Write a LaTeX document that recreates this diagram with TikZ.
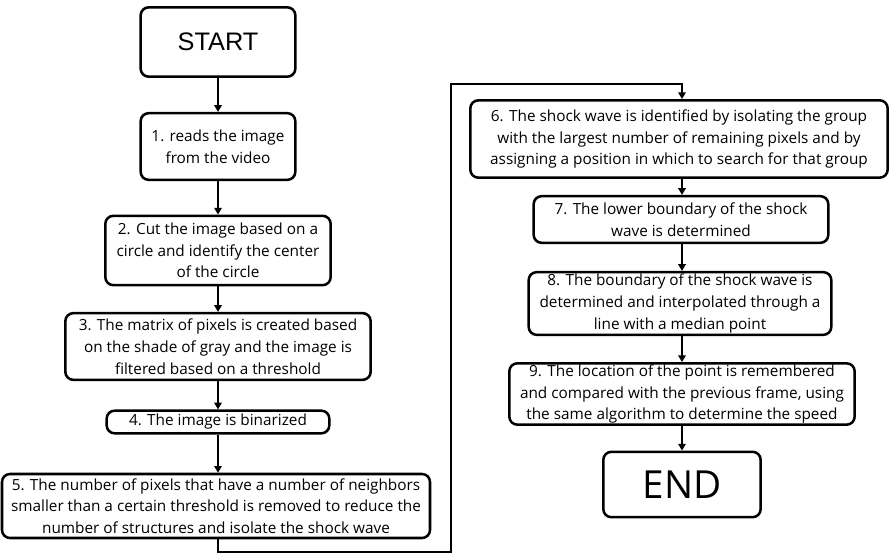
\documentclass[tikz,border=0pt]{standalone}
\usepackage{fontspec}
\setmainfont{Open Sans}
\newfontfamily\arialfont{Liberation Sans}
\usetikzlibrary{arrows.meta}

\begin{document}
\begin{tikzpicture}[x=0.75pt,y=-0.75pt,>={Triangle[length=5pt,width=5.5pt]},
  stepbox/.style={draw,line width=1.9pt,rounded corners=6pt,align=center,
    inner sep=0pt,font=\fontsize{11.5}{16.3}\selectfont},
  flow/.style={->,line width=1.7pt}]
  \useasboundingbox (0,0) rectangle (890,559);

  \node[stepbox,minimum width=116pt,minimum height=52pt,
        font=\arialfont\fontsize{19}{22}\selectfont] (start) at (218,42) {START};
  \node[stepbox,minimum width=116pt,minimum height=50pt] (s1) at (218,146.5)
    {1. reads the image\\from the video};
  \node[stepbox,minimum width=169pt,minimum height=52pt] (s2) at (218,250.5)
    {2. Cut the image based on a\\circle and identify the center\\of the circle};
  \node[stepbox,minimum width=229pt,minimum height=50pt] (s3) at (218,346.5)
    {3. The matrix of pixels is created based\\on the shade of gray and the image is\\filtered based on a threshold};
  \node[stepbox,minimum width=167pt,minimum height=17pt] (s4) at (218,422)
    {4. The image is binarized};
  \node[stepbox,minimum width=321pt,minimum height=48pt] (s5) at (216,506)
    {5. The number of pixels that have a number of neighbors\\smaller than a certain threshold is removed to reduce the\\number of structures and isolate the shock wave};

  \node[stepbox,minimum width=313pt,minimum height=58pt] (s6) at (679,139)
    {6. The shock wave is identified by isolating the group\\with the largest number of remaining pixels and by\\assigning a position in which to search for that group};
  \node[stepbox,minimum width=221pt,minimum height=35pt] (s7) at (681,219.5)
    {7. The lower boundary of the shock\\wave is determined};
  \node[stepbox,minimum width=227pt,minimum height=47pt] (s8) at (680,303.5)
    {8. The boundary of the shock wave is\\determined and interpolated through a\\line with a median point};
  \node[stepbox,minimum width=259pt,minimum height=46pt] (s9) at (682,394)
    {9. The location of the point is remembered\\and compared with the previous frame, using\\the same algorithm to determine the speed};
  \node[stepbox,minimum width=118pt,minimum height=49pt,
        font=\fontsize{29}{32}\selectfont] (end) at (682,484.5) {END};

  \draw[flow] (start) -- (s1);
  \draw[flow] (s1) -- (s2);
  \draw[flow] (s2) -- (s3);
  \draw[flow] (s3) -- (s4);
  \draw[flow] (s4.south) -- (s4.south |- s5.north);

  \coordinate (low) at (451,552);
  \coordinate (turn) at (451,84);
  \coordinate (top6) at (682,84);
  \draw[flow] (s4.south |- s5.south) |- (low) -- (turn) -- (top6) -- (top6 |- s6.north);

  \draw[flow] (top6 |- s6.south) -- (top6 |- s7.north);
  \draw[flow] (top6 |- s7.south) -- (top6 |- s8.north);
  \draw[flow] (top6 |- s8.south) -- (s9.north);
  \draw[flow] (s9) -- (end);
\end{tikzpicture}
\end{document}
